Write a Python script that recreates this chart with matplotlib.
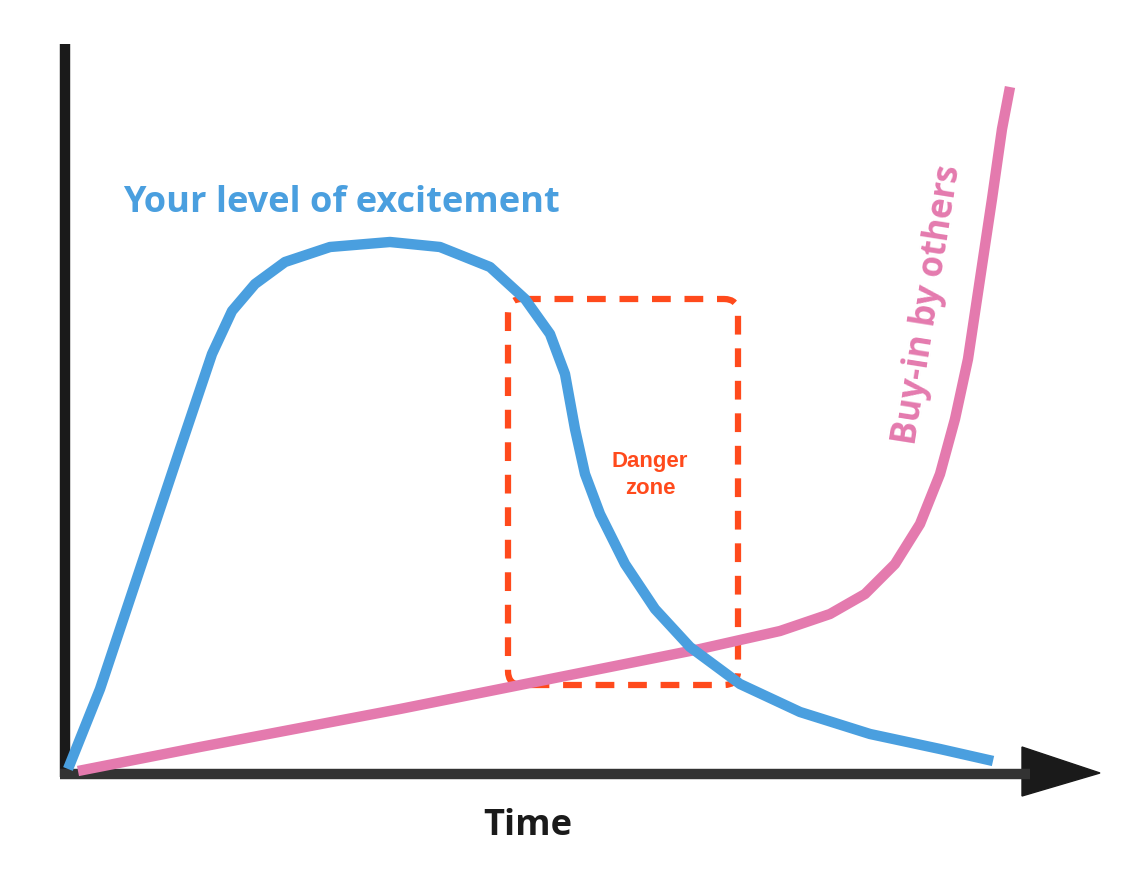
import matplotlib
matplotlib.use("Agg")
import matplotlib.pyplot as plt
from matplotlib.patches import FancyBboxPatch, Polygon

# data (pixel-like coordinates, y measured downward)
blue_x = [68,100,140,180,212,232,255,285,330,390,440,490,525,550,565,575,585,600,625,655,690,740,800,870,940,993]
blue_y = [770,690,570,450,355,312,285,263,248,243,248,268,300,335,375,430,475,515,565,610,648,685,713,735,750,762]
pink_x = [78,200,400,600,700,780,830,865,895,920,940,955,968,980,992,1002,1010]
pink_y = [772,748,710,670,650,632,615,595,565,525,475,420,360,280,200,130,88]

fig = plt.figure(figsize=(11.36, 8.79), dpi=100)
ax = fig.add_axes([0, 0, 1, 1])
ax.set_xlim(0, 1136)
ax.set_ylim(879, 0)
ax.axis("off")

# axes
ax.plot([65, 65], [45, 778], color="#1a1a1a", lw=7.5, solid_capstyle="butt")
ax.plot([60, 1030], [775, 775], color="#333333", lw=7.5, solid_capstyle="butt")
ax.add_patch(Polygon([[1022, 748], [1100, 774], [1022, 797]], closed=True, color="#1a1a1a"))

# danger zone
box = FancyBboxPatch((508, 300), 230, 386, boxstyle="round,pad=0,rounding_size=14",
                     fill=False, edgecolor="#ff4a1c", lw=4.5, linestyle=(0, (3, 2.2)))
ax.add_patch(box)

ax.plot(pink_x, pink_y, color="#e47aae", lw=7.5, solid_capstyle="butt", solid_joinstyle="round")
ax.plot(blue_x, blue_y, color="#4a9fdf", lw=7.5, solid_capstyle="butt", solid_joinstyle="round")

ax.text(123, 203, "Your level of excitement", color="#4a9fdf", fontsize=26, fontweight="bold",
        family="Open Sans", ha="left", va="center")
ax.text(928, 305, "Buy-in by others", color="#e47aae", fontsize=25, fontweight="bold",
        family="Open Sans", rotation=81, ha="center", va="center")
ax.text(650, 475, "Danger\nzone", color="#ff4a1c", fontsize=16, fontweight="bold",
        family="Liberation Sans", ha="center", va="center", linespacing=1.4)
ax.text(528, 826, "Time", color="#1a1a1a", fontsize=26, fontweight="bold",
        family="Open Sans", ha="center", va="center")

fig.savefig("out.png", dpi=100, facecolor="white")
